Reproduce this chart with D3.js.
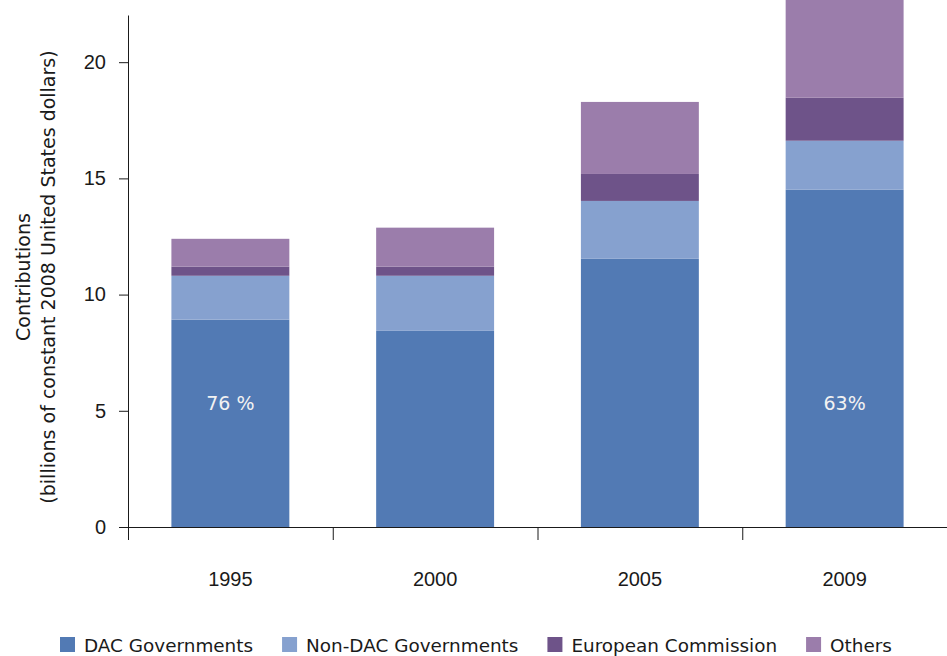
<!DOCTYPE html>
<html>
<head>
  <title>Contributions chart</title>
  <script src="https://cdn.jsdelivr.net/npm/d3@7"></script>
  <style>
    body { margin: 0; background: #fff; }
    svg { display: block; font-family: "DejaVu Sans", sans-serif; }
  </style>
</head>
<body>
  <div id="chart"></div>
  <script>
    // data
    const years = ["1995", "2000", "2005", "2009"];
    const seriesNames = ["DAC Governments", "Non-DAC Governments", "European Commission", "Others"];
    const dacGov = [8.92, 8.44, 11.54, 14.51];
    const nonDacGov = [1.89, 2.37, 2.49, 2.11];
    const europeanCommission = [0.39, 0.39, 1.16, 1.85];
    const others = [1.2, 1.68, 3.1, 4.45];
    const shareLabels = ["76 %", "", "", "63%"];
    const yTicks = [0, 5, 10, 15, 20];

    const colors = ["#527ab4", "#86a1cf", "#6e5389", "#9b7dab"];

    const width = 947, height = 656;
    const margin = { top: 15, right: 0, bottom: 129, left: 128 };

    const rows = years.map((y, i) => ({
      year: y,
      "DAC Governments": dacGov[i],
      "Non-DAC Governments": nonDacGov[i],
      "European Commission": europeanCommission[i],
      "Others": others[i]
    }));

    const svg = d3.select("#chart").append("svg")
        .attr("width", width)
        .attr("height", height);

    const x = d3.scaleBand()
        .domain(years)
        .range([margin.left, width - margin.right])
        .paddingInner(0.424)
        .paddingOuter(0.212);

    // boundaries between categories, for the tick marks
    const xEdge = d3.scaleLinear()
        .domain([0, years.length])
        .range([margin.left, width - margin.right]);

    const y = d3.scaleLinear()
        .domain([0, 22.03])
        .range([height - margin.bottom, margin.top]);

    const color = d3.scaleOrdinal().domain(seriesNames).range(colors);

    const stacked = d3.stack().keys(seriesNames)(rows);

    svg.append("g")
      .selectAll("g")
      .data(stacked)
      .join("g")
        .attr("fill", d => color(d.key))
      .selectAll("rect")
      .data(d => d)
      .join("rect")
        .attr("x", d => x(d.data.year))
        .attr("y", d => y(d[1]))
        .attr("width", x.bandwidth())
        .attr("height", d => y(d[0]) - y(d[1]));

    // percentage labels inside the DAC bars
    svg.append("g")
      .selectAll("text")
      .data(years)
      .join("text")
        .attr("x", d => x(d) + x.bandwidth() / 2)
        .attr("y", y(5.3))
        .attr("dy", "0.35em")
        .attr("text-anchor", "middle")
        .attr("fill", "#f2f2f2")
        .style("font-size", "19px")
        .text((d, i) => shareLabels[i]);

    // y axis
    const yAxis = svg.append("g")
        .attr("transform", `translate(${margin.left},0)`)
        .call(d3.axisLeft(y).tickValues(yTicks).tickSize(9).tickPadding(13).tickSizeOuter(0));
    yAxis.selectAll("text").style("font-size", "20px").attr("fill", "#1a1a1a");
    yAxis.selectAll("line, path").attr("stroke", "#1a1a1a");

    // x axis: boundary ticks
    const xTicks = svg.append("g")
        .attr("transform", `translate(0,${height - margin.bottom})`)
        .call(d3.axisBottom(xEdge).tickValues(d3.range(years.length + 1)).tickFormat("").tickSize(13).tickSizeOuter(0));
    xTicks.selectAll("line, path").attr("stroke", "#1a1a1a");

    // x axis: category labels
    const xLabels = svg.append("g")
        .attr("transform", `translate(0,${height - margin.bottom})`)
        .call(d3.axisBottom(x).tickSize(0).tickPadding(45));
    xLabels.select(".domain").remove();
    xLabels.selectAll("text").style("font-size", "20px").attr("fill", "#1a1a1a");

    // y axis title
    const title = svg.append("text")
        .attr("transform", "translate(0,277) rotate(-90)")
        .attr("text-anchor", "middle")
        .attr("fill", "#1a1a1a")
        .style("font-size", "19px");
    title.append("tspan").attr("x", 0).attr("y", 30).text("Contributions");
    title.append("tspan").attr("x", 0).attr("y", 55).text("(billions of constant 2008 United States dollars)");

    // legend
    const legend = svg.append("g").attr("transform", "translate(0,652)");
    let lx = 60;
    seriesNames.forEach(name => {
      legend.append("rect")
          .attr("x", lx).attr("y", -15)
          .attr("width", 15).attr("height", 15)
          .attr("fill", color(name));
      const t = legend.append("text")
          .attr("x", lx + 24).attr("y", 0)
          .attr("fill", "#1a1a1a")
          .style("font-size", "18.4px")
          .text(name);
      lx += 24 + t.node().getComputedTextLength() + 29;
    });
  </script>
</body>
</html>
